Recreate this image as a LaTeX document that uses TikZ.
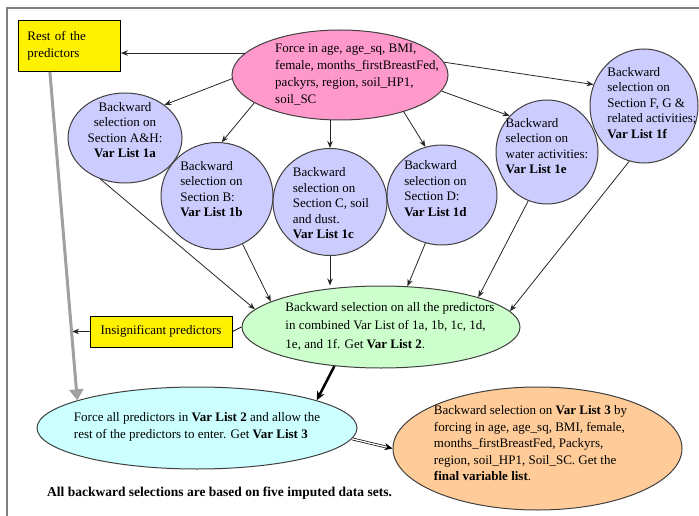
\documentclass[tikz,border=0pt]{standalone}
\usepackage{fontspec}
\setmainfont{Liberation Serif}
\usetikzlibrary{shapes.geometric,arrows.meta,calc}
\definecolor{selblue}{HTML}{CCCCFF}
\definecolor{forcepink}{HTML}{FF99CC}
\definecolor{combgreen}{HTML}{CCFFCC}
\definecolor{allcyan}{HTML}{CCFFFF}
\definecolor{finalorange}{HTML}{FFCC99}
\definecolor{restgray}{HTML}{A0A0A0}
% text block set inside a fixed-size node: alignment, x shift, raise, lines
\newcommand{\inbox}[4]{\raisebox{#3}{\smash{\makebox[0pt]{\hspace*{#2}\begin{tabular}{@{}#1@{}}#4\end{tabular}\hspace*{-#2}}}}}
\begin{document}
\begin{tikzpicture}[x=1pt, y=-1pt,
	font=\fontsize{13}{17}\selectfont,
	oval/.style={ellipse, draw=black!75, line width=1pt, inner sep=0pt},
	sel/.style={oval, fill=selblue, font=\fontsize{13}{15.5}\selectfont},
	note/.style={rectangle, draw=black, line width=0.9pt, fill=yellow},
	arr/.style={-{Stealth[length=7pt, width=5.5pt]}, black!85, line width=0.8pt},
	bigarr/.style={-{Stealth[length=9pt, width=8pt]}, line width=2.5pt},
	restarr/.style={-{Triangle[length=11pt, width=14pt]}, restgray, line width=3pt},
	dblarr/.style={double, double distance=1.3pt, line width=0.7pt, -{Stealth[length=8pt, width=7pt]}}]
	\useasboundingbox (0,0) rectangle (699,516);
	\draw[gray, line width=1.5pt] (7,516) -- (7,8) -- (699,8);

	\node[note, align=left, text width=84pt, inner xsep=9pt, minimum height=51pt, anchor=north west] (rest) at (18,20) {Rest of the\\predictors};
	\node[oval, fill=forcepink, minimum width=216pt, minimum height=90pt] (force) at (340,75)
		{\inbox{l}{17pt}{-5.5pt}{Force in age, age\_sq, BMI,\\female, months\_firstBreastFed,\\packyrs, region, soil\_HP1,\\soil\_SC}};

	% one selection per section
	\node[sel, minimum width=114pt, minimum height=90pt] (c1a) at (125,138)
		{\inbox{c}{0pt}{7pt}{Backward\\selection on\\Section A\&H:\\\textbf{Var List 1a}}};
	\node[sel, minimum width=112pt, minimum height=107pt] (c1b) at (217,196)
		{\inbox{l}{-5.5pt}{5pt}{Backward\\selection on\\Section B:\\\textbf{Var List 1b}}};
	\node[sel, minimum width=114pt, minimum height=107pt] (c1c) at (330,202)
		{\inbox{l}{1pt}{-11pt}{Backward\\selection on\\Section C, soil\\and dust.\\\textbf{Var List 1c}}};
	\node[sel, minimum width=110pt, minimum height=100pt] (c1d) at (442,195)
		{\inbox{l}{-6.5pt}{4pt}{Backward\\selection on\\Section D:\\\textbf{Var List 1d}}};
	\node[sel, minimum width=108pt, minimum height=114pt] (c1f) at (644,106)
		{\inbox{l}{8pt}{-2pt}{Backward\\selection on\\Section F, G \&\\related activities;\\\textbf{Var List 1f}}};
	\node[sel, minimum width=102pt, minimum height=104pt] (c1e) at (547,152)
		{\inbox{l}{0pt}{3pt}{Backward\\selection on\\water activities:\\\textbf{Var List 1e}}};

	\node[oval, fill=combgreen, minimum width=278pt, minimum height=82pt, font=\fontsize{13}{18.5}\selectfont] (comb) at (381,327)
		{\inbox{l}{9pt}{-4pt}{Backward selection on all the predictors\\in combined Var List of 1a, 1b, 1c, 1d,\\1e, and 1f. Get \textbf{Var List 2}.}};
	\node[note, minimum width=142pt, minimum height=31pt] (insig) at (161,331.5) {Insignificant predictors};
	\node[oval, fill=allcyan, minimum width=320pt, minimum height=82pt] (all) at (197,428)
		{\inbox{l}{0pt}{-3.5pt}{Force all predictors in \textbf{Var List 2} and allow the\\rest of the predictors to enter. Get \textbf{Var List 3}}};
	\node[oval, fill=finalorange, minimum width=289pt, minimum height=123pt, font=\fontsize{13}{16.5}\selectfont] (final) at (537.5,448.5)
		{\inbox{l}{-7pt}{2.5pt}{Backward selection on \textbf{Var List 3} by\\forcing in age, age\_sq, BMI, female,\\months\_firstBreastFed, Packyrs,\\region, soil\_HP1, Soil\_SC. Get the\\\textbf{final variable list}.}};
	\node[anchor=west, inner sep=0pt, font=\fontsize{13.5}{16}\selectfont\bfseries] (foot) at (47,493) {All backward selections are based on five imputed data sets.};
	\coordinate (hit) at (72,331.5);

	% forced-in set to each section
	\draw[arr] (force.167) -- (rest.east |- force.167);
	\draw[arr] (force.182) -- (c1a.40);
	\draw[arr] (force.198) -- (c1b.85);
	\draw[arr] (force.south -| c1c.north) -- (c1c.north);
	\draw[arr] (force.330) -- (c1d.109);
	\draw[arr] (force.351) -- (c1e.136);
	\draw[arr] (force.7) -- (c1f.157);
	% sections into combined list
	\draw[arr] (c1a.239) -- (comb.172);
	\draw[arr] (c1b.298) -- (comb.167);
	\draw[arr] (c1c.south) -- (c1c.south |- comb.north);
	\draw[arr] (c1d.251) -- (comb.57);
	\draw[arr] (c1e.249) -- (comb.17);
	\draw[arr] (c1f.255) -- (comb.7.5);

	\draw[line width=0.8pt] (comb.west) -- (insig.east);
	\draw[arr] (insig.west) -- (hit);
	\draw[restarr] ($(rest.south west)!0.31!(rest.south east)$) -- (all.167);
	\draw[bigarr] (comb.220) -- (all.13);
	\draw[dblarr] (all.356) -- (final.west);
\end{tikzpicture}
\end{document}
